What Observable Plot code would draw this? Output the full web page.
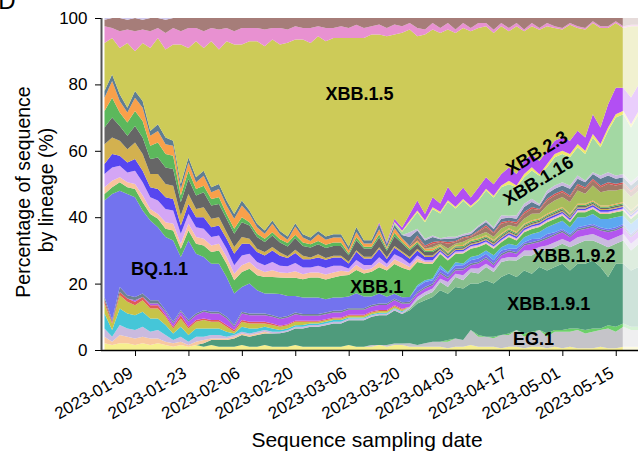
<!DOCTYPE html>
<html><head><meta charset="utf-8">
<script src="https://cdn.jsdelivr.net/npm/d3@7"></script>
<script src="https://cdn.jsdelivr.net/npm/@observablehq/plot@0.6"></script>
<style>
html,body{margin:0;padding:0;background:#fff;}
#chart{width:638px;height:452px;overflow:hidden;position:relative;}
#err{position:absolute;left:120px;top:30px;color:red;font:12px sans-serif;}
</style></head><body><div id="chart"></div><div id="err"></div>
<script>
// ---- time grid: one value every 2 days from 2023-01-01 (71 points) ----
const startDate = "2023-01-01";
const stepDays = 2;

// ---- tick labels ----
const yTicks = [0, 20, 40, 60, 80, 100];
const xTicks = ["2023-01-09","2023-01-23","2023-02-06","2023-02-20","2023-03-06","2023-03-20","2023-04-03","2023-04-17","2023-05-01","2023-05-15"];

// ---- lineage shares (%), bottom of stack first ----
const paleY   = [2,1.5,2,2,1.5,2,1.5,2,1.5,1, 1.5,1,1.5,1,1.5,1,1,1,1.5,1, 1,1.5,1,1,1,1.5,1,1,1,1, 1,1,1.5,1,1,1,1.5,1,1.5,1.5, 1,1,1,1,1,0.5,1,1,1.5,1, 1,1,0.5,1,1,0.5,1,1,0.5,1, 0.5,1,0.5,0.5,0.5,1,0.5,0.5,1,1, 1];
const EG1     = [0,0,0,0,0,0,0,0,0,0, 0,0,0,0,0,0,0,0,0,0, 0,0,0,0,0,0,0,0,0,0, 0,0,0,0,0,0.5,0,0.5,0.5,0.5, 1,0.5,1,1.5,1.5,2,2.5,2,4.5,3, 3,2.5,4,3.5,5,3.5,4,5,3.5,4.5, 5,4.5,5.5,4.5,5,5,6,5,6,5, 5];
const greenB  = [0,0,0,0,0,0,0,0,0,0, 0,0,0,0,0,0,0,0,0,0, 0,0,0,0,0,0,0,0,0,0, 0,0,0,0,0,0,0,0,0,0, 0,0,0,0,0,0.5,0,0,0,0.5, 0,0.5,0,0.5,0,1,0.5,0,1,0.5, 0.5,1,0.5,1,1,0.5,1,1.5,1,1, 1];
const XBB191  = [0,0,0,0,0,0,0,0,0,0, 0,0,0,1,1.5,2,2,2.5,3,3, 3.5,3.5,4,4,4.5,5,5.5,6,6,6.5, 7,7,7.5,8,8,8.5,9,9,10,9, 10,12.5,13,13.5,15.5,14,15.5,15.5,14,15.5, 17,16,17.5,18,16,19,17.5,19,19,19, 20,17.5,19.5,20,20.5,18.5,14.5,19,18,17, 18];
const XBB192  = [0,0,0,0,0,0,0,0,0,0, 0,0,0,0,0,0,0,0,0,0, 0,0,0,0,0,0,0,0,0,0, 0,0,0,0,0,0,0,0,0,0, 0.5,1,1.5,1.5,2.5,2,3,2.5,3.5,3, 4,3.5,4.5,4,5,4.5,5.5,5,6,6, 6,7,6,7,6,7,9,6,7,6, 7];
const peachL  = [2,1,2.5,2,2,2,2,1.5,1,1, 1,0.5,1,1,0.5,0.5,0.5,0.5,0.5,0.5, 0.5,0.5,0,0,0,0,0,0,0,0, 0,0,0,0,0,0,0,0,0,0, 0,0,0,0,0,0,0,0,0,0, 0,0,0,0,0,0,0,0,0,0, 0,0,0,0,0,0,0,0,0,0, 0];
const lavL    = [2.5,1.5,3,2.5,2.5,3,2,2.5,2,1, 1.5,1,1.5,1,1,1,0.5,0.5,0.5,0.5, 0.5,0.5,0.5,0.5,0.5,0.5,0.5,0.5,0.5,0.5, 0.5,0.5,0.5,0.5,0.5,0.5,0.5,0.5,0.5,0.5, 0.5,1,1,1,1,1.5,1,1.5,1,1.5, 1,1,1,1,1,1.5,1.5,1,1.5,1.5, 1.5,1.5,2,1.5,2,2,2,2,2,2, 2];
const cyanL   = [4.5,2,5,4.5,4.5,4.5,4,3.5,3,2, 3,2,2.5,2.5,2,2,1.5,0.5,1.5,1.5, 1,1,1,0.5,0.5,0.5,0.5,0.5,0.5,0.5, 0.5,0.5,0.3,0.3,0.3,0.3,0.3,0.3,0.3,0.3, 0,0,0,0,0,0,0,0,0,0, 0,0,0,0,0,0,0,0,0,0, 0,0,0,0,0,0,0,0,0,0, 0];
const oliveL  = [3,2,4,3.5,3,3.5,3,3,2.5,1.5, 2.5,2,2,2.5,2,2,1.5,0.5,1.5,1.5, 1.5,1,1,1,1,1,1,0.5,0.5,0.5, 0.5,0.5,0.5,0.5,0.5,0.5,0.5,0.5,0.5,0.5, 0,0,0,0,0,0,0,0,0,0, 0,0,0,0,0,0,0,0,0,0, 0,0,0,0,0,0,0,0,0,0, 0];
const redL    = [1,0.5,1,1,1,1,1,1,0.5,0.5, 1,0.5,0.5,0.5,0.5,0.5,0.5,0.5,0.5,0.5, 0.5,0.5,0.5,0.3,0.3,0.3,0.3,0.3,0.3,0.3, 0.3,0.3,0.3,0.3,0.3,0.3,0.3,0.3,0.3,0.3, 0,0,0,0,0,0,0,0,0,0, 0,0,0,0,0,0,0,0,0,0, 0,0,0,0,0,0,0,0,0,0, 0];
const purL    = [0,0,0,0,0.5,0,0.5,0.5,1,1, 1,1.5,1.5,2,2,2,2,1,2,2, 2,2,2,2,2,2,1.5,1.5,1.5,1.5, 1.5,1.5,1.5,1.5,1.5,1.5,1.5,1.5,1.5,1.5, 1,1,1,1,1.5,1,1,1.5,1,1.5, 1.5,1,1,1.5,1,1.5,2,1.5,2,2, 2,1.5,2,2,2,2,2.5,2,2,2, 2];
const grayL   = [1,0.5,1.5,1,1,1,1,1,0.5,0.5, 0.5,0.5,0.5,0.5,0.5,0.5,0.5,0.5,0.5,0.5, 0.5,0.5,0.5,0.5,0.5,0.5,0.5,0.5,0.5,0.5, 0.5,0.5,0.5,0.5,0.5,0.5,0.5,0.5,0.5,0.5, 0.5,0.5,0.5,0.5,0.5,0.5,0.5,0.5,0.5,0.5, 0.5,0.5,0.5,0.5,0.5,0.5,0.5,0.5,0.5,0.5, 0.5,0.5,0.5,0.5,0.5,0.5,0.5,0.5,0.5,0.5, 0.5];
const BQ11    = [29,38,29,30.5,30,25,24,22,22,24.5, 16,24,18,16,14.5,14.5,12,9.5,7.5,9, 7,6,6.5,7,6,5,5,5,5,4, 4,4,3.5,4.5,3.5,2.5,3,2,1.5,1.5, 1.5,1.5,1.5,1,1,1,1,1,1,1, 1,1,1,0.5,1,0.5,1,0.5,1,0.5, 0.5,0.5,0.5,0.5,0.5,0.5,0.5,0.5,0.5,0.5, 0.5];
const ltBlue  = [0,0,0,0,0,0,0,0,0,0, 0,0,0,0,0,0,0,0,0,0, 0,0,0,0,0,0,0,0,0,0, 0,0,0,0,0,0,0,0,0,0, 0,0.5,0.5,0.5,1,0.5,1,0.5,1,1, 1,1.5,1,1.5,1,1.5,1.5,2,2,2.5, 2.5,2,3,2.5,3,2.5,3,3,2.5,3, 3];
const XBB1    = [2,2,2.5,2,2.5,2.5,2,2.5,2.5,3, 2.5,3,3,3.5,3.5,4,4,4,4.5,4.5, 4.5,5,5,5,5.5,5.5,5.5,6,6,6, 6,6.5,6.5,7,7,7.5,8,8,9,9, 8,7,5,4.5,3.5,3.5,2.5,3,2.5,2.5, 2,2,1.5,2,1.5,1.5,1.5,1.5,1.5,1.5, 1.5,1.5,1.5,1.5,1.5,1.5,1.5,1.5,1.5,1.5, 1.5];
const peachM  = [2,2,1.5,1.5,1.5,2,1.5,1.5,2,2, 1.5,2,2,2,2,2,2,2,2,2, 2,1.5,2,1.5,1.5,2,1.5,1.5,1.5,1.5, 1.5,1.5,1,1.5,1,1,1.5,1,1.5,1.5, 1,1,0.5,0.5,0.3,0.3,0.3,0.3,0.3,0.3, 0.3,0.3,0.3,0.3,0.3,0.3,0.3,0.3,0.3,0.3, 0.3,0.3,0.3,0.3,0.3,0.3,0.3,0.3,0.3,0.3, 0.3];
const lavM    = [4,4,3.5,3,4,4,3.5,4,4,4, 3,3,3,3,2.5,2.5,2.5,2.5,3,2.5, 2,2,2.5,2,2,2.5,2,1.5,2,2, 2,1.5,1,1.5,1.5,1,1.5,1,1.5,1.5, 1,1,0.5,0.5,0.4,0.4,0.4,0.4,0.4,0.4, 0.4,0.4,0.4,0.4,0.4,0.4,0.4,0.4,0.4,0.4, 0.4,0.4,0.4,0.4,0.4,0.4,0.4,0.4,0.4,0.4, 0.4];
const blueM   = [3,4,3,3,3.5,3.5,3,3.5,3.5,3.5, 2.5,3,3,3.5,3,3,3,3.5,3.5,3, 3,3,3.5,3,2.5,3,2.5,2.5,2.5,2.5, 2.5,2.5,1.5,2.5,2,2,2.5,1.5,2,1.5, 1.5,1.5,1,1,0.5,0.5,0.5,0.5,0.5,0.5, 0.5,0.5,0.5,0.5,0.5,0.5,0.5,0.5,0.5,0.5, 0.5,0.5,0.5,0.5,0.5,0.5,0.5,0.5,0.5,0.5, 0.5];
const goldM   = [6,5,4.5,4,5,5,4,4.5,4,4, 3,3,2.5,3,2.5,2.5,2,2,2,1.5, 1,1,1,1,0.5,1,1,0.5,1,0.5, 0.5,0.5,0.5,0.5,0.5,0.5,0.5,0.5,0.5,0.5, 0.5,0.5,0.5,0.5,0.3,0.3,0.3,0.3,0.3,0.3, 0.3,0.3,0.3,0.3,0.3,0.3,0.3,0.3,0.3,0.3, 0.3,0.3,0.3,0.3,0.3,0.3,0.3,0.3,0.3,0.3, 0.3];
const dgrayM  = [5,6,4.5,4,5,5,4.5,5,5,5, 4,4.5,4,4.5,4,4,4,4,4.5,4, 3.5,3,3.5,3,3,3.5,3,3,3,3, 3,3,2,3,2.5,2.5,3,2,3,2.5, 2,1.5,1,1,0.4,0.4,0.4,0.4,0.4,0.4, 0.4,0.4,0.4,0.4,0.4,0.4,0.4,0.4,0.4,0.4, 0.4,0.4,0.4,0.4,0.4,0.4,0.4,0.4,0.4,0.4, 0.4];
const greenM  = [5,6,4,4,4.5,5,4,4.5,4,4, 2,2.5,2,2,2,2,1.5,1.5,1.5,1, 1,1,1,1,1,1,1,1,1,1, 1,1,0.5,1,0.5,0.5,1,0.5,1,0.5, 0.5,0.5,0.5,0.5,0.4,0.4,0.4,0.4,0.4,0.4, 0.4,0.4,0.4,0.4,0.4,0.4,0.4,0.4,0.4,0.4, 0.4,0.4,0.4,0.4,0.4,0.4,0.4,0.4,0.4,0.4, 0.4];
const orangeM = [4,5,3.5,3,4,4,3,3.5,3,3, 2,2.5,2,3,2,2.5,2.5,3,3.5,2.5, 2,1.5,2.5,1.5,1,2.5,1.5,1,2,1.5, 1.5,1.5,1,1.5,1,1,1.5,0.5,1.5,1, 0.5,0.5,0.5,0.5,0.3,0.3,0.3,0.3,0.3,0.3, 0.3,0.3,0.3,0.3,0.3,0.3,0.3,0.3,0.3,0.3, 0.3,0.3,0.3,0.3,0.3,0.3,0.3,0.3,0.3,0.3, 0.3];
const oliveG  = [0,0,0,0,0,0,0,0,0,0, 0,0,0,0,0,0,0,0,0,0, 0,0,0,0,0,0,0,0,0,0, 0,0,0,0,0,0,0,0,0,0, 0,0,0,0.5,0.5,1,0.5,1,0.5,1, 1,1,1.5,1,1.5,1.5,2,1.5,2.5,3, 3,3.5,4,3,4.5,4,4.5,4,4,4, 4];
const brownM  = [0,0,0,0,0,0,0,0,0,0, 0,0,0,0,0,0,0,0,0,0, 0,0,0,0,0,0,0,0,0,0, 0,0,0,0,0,0,0,0,0,0, 0.5,1,0.5,1,0.5,1.5,0.5,1,0.5,1, 1.5,1,1.5,1,1,1.5,1.5,1,1.5,1.5, 1.5,1.5,1.5,1.5,1.5,1.5,2,1.5,1.5,1.5, 1.5];
const redU    = [0,0,0,0,0,0,0,0,0,0, 0,0,0,0,0,0,0,0,0,0, 0,0,0,0,0,0,0,0,0,0, 0,0,0,0,0,0,0,0,0,0, 0,0.5,0.5,0.5,0.3,0.5,0.3,0.3,0.3,0.3, 0.5,0.3,0.5,0.3,0.5,0.5,0.5,0.3,0.5,0.5, 0.5,0.5,0.5,0.5,0.5,0.5,0.5,0.5,0.5,0.5, 0.5];
const steelM  = [2,2,2,1.5,2,2,1.5,2,2,1.5, 1.5,1.5,1.5,1.5,1.5,1.5,1.5,1.5,1.5,1, 1,1,1,1,1,1,1,1,1,1, 1,1,1,1.5,1,1,1.5,1,1,1, 2.5,1.5,1.5,1.5,0.5,1,0.8,0.5,0.5,1, 1,1,1,1,1,1.5,1.5,1,1.5,1.5, 1.5,2,1.5,1.5,1.5,2,2,1.5,1.5,1.5, 1.5];
const lavU    = [0,0,0,0,0,0,0,0,0,0, 0,0,0,0,0,0,0,0,0,0, 0,0,0,0,0,0,0,0,0,0, 0,0,0,0,0,0,0,0,0,0, 1.5,0.5,0.5,0.5,0.3,0.6,0.5,0.5,0.5,0.5, 0.5,0.5,1,0.5,1,1,1,0.5,1,1, 1,1,1,0.5,0.5,1,1,1,1,1, 1];
const XBB116  = [0,0,0,0,0,0,0,0,0,0, 0,0,0,0,0,0,0,0,0,0, 0,0,0,0,0,0,0,0,0,0, 0,0,0,0,0,0,0,0,0.5,1, 3,5,5,8,7.5,10.5,8.5,10,7.5,7.5, 9,9,8.5,9.5,8.5,8,8.5,8.5,7,8.5, 8.5,8.5,8.5,8,10.5,8.5,12.5,17.5,18,16.5, 18.5];
const yellowU = [0,0,0,0,0,0,0,0,0,0, 0,0,0,0,0,0,0,0,0,0, 0,0,0,0,0,0,0,0,0,0, 0,0,0,0,0,0,0,0,0.3,0.3, 0.5,0.5,0.5,0.5,0.5,0.5,0.5,0.5,0.5,0.5, 0.5,0.5,0.5,1,0.5,1,1,0.5,1,1, 1,1,1,1,1,1,1,1,1,1, 1];
const XBB23   = [0,0,0,0,0,0,0,0,0,0, 0,0,0,0,0,0,0,0,0,0, 0,0,0,0,0,0,0,0,0,0, 0,0,0,0,0,0,0.5,0.5,1,1, 2,3,2,3,2.5,4,3,3.5,2.5,3.5, 3.5,3.5,3.5,4,3.5,4,4,4,4,4, 4,4,4,4,6,5,7,8,7,8, 8];
const XBB15   = [14.5,11,14,19.5,12,17.5,25,26,26.5,29, 42,33,41,37,44,40.5,48,51,47,51, 55,55.5,54.5,56,58.5,55.5,58.5,58.5,58.5,59, 59,59,63,57,61,62,57,62.5,56,59.5, 55.5,49.5,54,50.5,51.5,47.5,49.5,48,50,48, 45.5,45.5,44.5,41,44.5,39,38.5,39.5,37.5,34, 32.5,35,31,32.5,27.5,30,23,19.5,18,21.5, 17.5];
const pinkT   = [5,3,5,4,6,4,5,3,5,5, 4,6,4,5,4,6,4,4,5,4, 4,5,3.5,5,4,4,3.5,4.5,3,4, 3,3.5,3,4,3,2.5,3,2.5,3,2, 2,2.5,1.5,2,1.5,2,1,1.5,1,1.5, 1,1,1,1,1,0.5,1,0.5,1,0.5, 0.5,0.5,0.5,0.5,0.5,0.5,0.5,0.5,0.5,0.5, 0.5];
const brownT  = [2,3,4,3,4,3,4,3,4,3, 4,3,3,4,3,3.5,3,4,3,3, 3,3.5,3,3,3.5,2.5,3,3,2.5,3, 3,2.5,3,2,3,2.5,2,3,2,2.5, 1.5,3,3.5,1.5,3,1.5,3.5,1.5,3,1.5, 1.5,3.5,1.5,3,1.5,3.5,1.5,3,1.5,2.5, 3,1.5,2.5,3,1,2.5,2.5,1,2.5,2, 2];
const lavT    = [0.5,0,0,0.5,0,0.5,0,0,0.5,0, 0,0,0,0,0,0,0,0,0,0, 0,0,0,0,0,0,0,0,0,0, 0,0,0,0,0,0,0,0,0,0, 0,0,0,0,0,0,0,0,0,0, 0,0,0,0,0,0,0,0,0,0, 0,0,0,0,0,0,0,0,0,0, 0];

const seriesNames  = ["Other (pale)","EG.1","Other (green)","XBB.1.9.1","XBB.1.9.2","Other (peach)","Other (lavender)","Other (cyan)","Other (olive)","Other (red)","Other (purple)","Other (slate)","BQ.1.1","Other (light blue)","XBB.1","Other (peach 2)","Other (lilac)","Other (blue)","Other (gold)","Other (dark grey)","Other (green 2)","Other (orange)","Other (olive green)","Other (brown)","Other (red 2)","Other (steel)","Other (lavender 2)","XBB.1.16","Other (yellow)","XBB.2.3","XBB.1.5","Other (pink)","Other (brown 2)","Other (lavender 3)"];
const seriesValues = [paleY,EG1,greenB,XBB191,XBB192,peachL,lavL,cyanL,oliveL,redL,purL,grayL,BQ11,ltBlue,XBB1,peachM,lavM,blueM,goldM,dgrayM,greenM,orangeM,oliveG,brownM,redU,steelM,lavU,XBB116,yellowU,XBB23,XBB15,pinkT,brownT,lavT];
const seriesColors = ["#f6ef8e","#c5c4c9","#6ccf6a","#4f9b7c","#88bf8e","#f8c8a0","#cabadf","#45c6d8","#c7c348","#e15a5a","#b356ef","#6f8290","#7373ee","#5ca8f0","#5db95e","#f9c39c","#d4a6f5","#5646f0","#d3b14f","#666666","#5cb85c","#f9a04a","#a7bd5c","#a07868","#d65252","#5f7d92","#c8b8de","#a3d8a3","#f2e66b","#b24ff3","#cdcb58","#e891d1","#a67d79","#cec6ea"];

// ---- inline labels ----
const labelText  = ["XBB.1.5","BQ.1.1","XBB.1","XBB.1.9.1","XBB.1.9.2","EG.1","XBB.1.16","XBB.2.3"];
const labelDate  = ["2023-03-08T17:00Z","2023-01-15T07:00Z","2023-03-13T05:00Z","2023-04-27T07:00Z","2023-05-03T22:00Z","2023-04-23T07:00Z","2023-04-24T14:00Z","2023-04-24T05:00Z"];
const labelPct   = [77.1, 24.6, 19.2, 13.9, 28.3, 3.5, 51.1, 59.5];
const labelAngle = [0,0,0,0,0,0,-31,-31];

// ---- build table ----
const t0 = Date.parse(startDate + "T00:00Z");
const bad = [];
const rows = [];
seriesNames.forEach((name, k) => {
  const vals = seriesValues[k];
  if (vals.length !== 71) bad.push(name + ":" + vals.length);
  vals.forEach((v, i) => rows.push({date: new Date(t0 + i * stepDays * 864e5), lineage: name, value: v, color: seriesColors[k]}));
});
if (bad.length) document.getElementById("err").textContent = "LEN " + bad.join(" ");

const labels = labelText.map((t, i) => ({text: t, date: new Date(labelDate[i]), y: labelPct[i] / 100, angle: labelAngle[i]}));
const x0 = new Date("2022-12-31T02:00Z"), x1 = new Date("2023-05-20T20:00Z");
const fadeStart = new Date("2023-05-16T20:00Z");

const chart = Plot.plot({
  width: 638, height: 452,
  marginLeft: 101, marginRight: 0, marginTop: 18, marginBottom: 102,
  style: {fontFamily: "'Liberation Sans', Arial, sans-serif", fontSize: "17px", color: "#000", background: "#fff"},
  x: {type: "utc", domain: [x0, x1]},
  y: {domain: [0, 1]},
  color: {type: "identity"},
  marks: [
    Plot.areaY(rows, {x: "date", y: "value", z: "lineage", fill: "color", order: seriesNames, offset: "normalize", curve: "linear", clip: true}),
    Plot.rect([{a: fadeStart, b: x1, lo: 0, hi: 1}], {x1: "a", x2: "b", y1: "lo", y2: "hi", fill: "#fff", fillOpacity: 0.72, clip: true}),
    Plot.text(labels, {x: "date", y: "y", text: "text", rotate: "angle", fontSize: 18, fontWeight: "bold", fill: "#000", textAnchor: "middle"}),
    Plot.ruleY([0], {stroke: "#000", strokeWidth: 1.5}),
    Plot.ruleX([x0], {stroke: "#555", strokeWidth: 2}),
    Plot.axisY({ticks: yTicks.map(v => v / 100), tickFormat: d => String(Math.round(d * 100)), tickSize: 6, tickPadding: 8, label: null}),
    Plot.axisX({ticks: xTicks.map(s => new Date(s + "T00:00Z")), tickFormat: d3.utcFormat("%Y-%m-%d"), tickRotate: -30, tickSize: 6, tickPadding: 6, label: null})
  ]
});

const svg = d3.select(chart);
// tick label sizes, and nudge the rotated date labels (text only, not the tick marks)
svg.selectAll("text").filter(function() {
  return /^\d{4}-\d{2}-\d{2}$/.test(this.textContent.trim());
}).style("font-size", "17px").attr("transform", function() {
  return "translate(-4,9) " + (this.getAttribute("transform") || "");
});
svg.selectAll("text").filter(function() {
  return /^(0|20|40|60|80|100)$/.test(this.textContent.trim());
}).style("font-size", "17px");

const ff = "'Liberation Sans', Arial, sans-serif";
svg.append("text").attr("x", 7).attr("y", 9).attr("font-size", 24).attr("font-family", ff).text("D");
svg.append("text").attr("transform", "translate(30,192) rotate(-90)").attr("text-anchor", "middle").attr("font-size", 19.5).attr("font-family", ff).text("Percentage of sequence");
svg.append("text").attr("transform", "translate(53,190) rotate(-90)").attr("text-anchor", "middle").attr("font-size", 19.5).attr("font-family", ff).text("by lineage (%)");
svg.append("text").attr("x", 367).attr("y", 447).attr("text-anchor", "middle").attr("font-size", 21).attr("font-family", ff).text("Sequence sampling date");

document.getElementById("chart").appendChild(chart);
</script>
</body></html>
